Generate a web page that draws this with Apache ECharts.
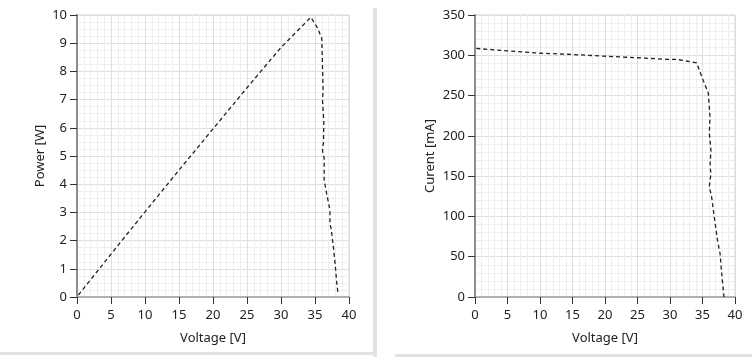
<!DOCTYPE html>
<html lang="en">
<head>
<meta charset="UTF-8">
<title>PV curves</title>
<style>
    html, body { margin: 0; padding: 0; background: #fff; }
    #echart { width: 752px; height: 357px; }
</style>
</head>
<body>

<div id="echart"></div>

<script src="https://cdn.jsdelivr.net/npm/echarts@6.0.0/dist/echarts.min.js"></script>
<script>
    // P-V curve
    const powerV = [0.2, 5, 10, 15, 20, 25, 30, 34.4, 35.4, 36.0, 36.1, 36.2, 36.1, 36.3, 36.25, 36.1, 36.35, 36.35, 36.7, 37.2, 37.2, 37.4, 37.7, 38.0, 38.2, 38.4];
    const powerW = [0.07, 1.52, 3.02, 4.5, 5.96, 7.42, 8.85, 9.92, 9.53, 9.17, 8.2, 7.3, 7.0, 6.2, 5.5, 5.2, 4.92, 4.15, 3.68, 3.08, 2.61, 2.38, 1.78, 1.07, 0.49, 0.1];

    // I-V curve
    const curV = [0.2, 5, 10.3, 15, 19.7, 23.6, 29.5, 31, 34.1, 35.1, 35.9, 36.15, 36.05, 36.3, 36.15, 36.3, 36.05, 36.4, 36.8, 37.3, 37.7, 37.95, 38.3];
    const curI = [308.5, 305.5, 302.5, 301, 299, 297.5, 295, 295, 290.5, 269, 253, 224, 203, 182, 162, 153.5, 137, 124.5, 99.7, 70.7, 54, 29.4, 0];

    const font = "Noto Sans";
    const majorGrid = "#dedede";
    const minorGrid = "#eeeeee";

    function xAx(gridIndex) {
        return {
            type: "value", gridIndex: gridIndex, min: 0, max: 40, interval: 5,
            name: "Voltage [V]", nameLocation: "middle", nameGap: 35,
            nameTextStyle: { fontFamily: font, fontSize: 13, color: "#222" },
            axisLine: { show: true, onZero: false, lineStyle: { color: "#d4d4d4", width: 1 } },
            axisTick: { show: true, length: 7, lineStyle: { color: "#333" } },
            axisLabel: { fontFamily: font, fontSize: 13, color: "#222", margin: 12 },
            splitLine: { show: true, lineStyle: { color: majorGrid } },
            minorTick: { show: false, splitNumber: 5 },
            minorSplitLine: { show: true, lineStyle: { color: minorGrid } }
        };
    }

    function topAx(gridIndex) {
        return {
            type: "value", gridIndex: gridIndex, position: "top", min: 0, max: 40,
            axisLine: { show: true, lineStyle: { color: "#a0a0a0", width: 1.5 } },
            axisTick: { show: false }, axisLabel: { show: false }, splitLine: { show: false }
        };
    }

    function yAx(gridIndex, max, interval, minorSplit, name, gap) {
        return {
            type: "value", gridIndex: gridIndex, min: 0, max: max, interval: interval,
            name: name, nameLocation: "middle", nameGap: gap,
            nameTextStyle: { fontFamily: font, fontSize: 13, color: "#222" },
            axisLine: { show: true, lineStyle: { color: "#8c8c8c", width: 2 } },
            axisTick: { show: true, length: 7, lineStyle: { color: "#333" } },
            axisLabel: { fontFamily: font, fontSize: 13, color: "#222", margin: 10 },
            splitLine: { show: true, lineStyle: { color: majorGrid } },
            minorTick: { show: false, splitNumber: minorSplit },
            minorSplitLine: { show: true, lineStyle: { color: minorGrid } }
        };
    }

    const myChart = echarts.init(document.getElementById("echart"));

    const option = {
        animation: false,
        backgroundColor: "#fff",
        grid: [
            { left: 77, top: 15, width: 272, height: 282, show: true, borderColor: "#d4d4d4", borderWidth: 1 },
            { left: 475, top: 15, width: 260, height: 282, show: true, borderColor: "#d4d4d4", borderWidth: 1 }
        ],
        xAxis: [xAx(0), xAx(1), topAx(0), topAx(1)],
        yAxis: [
            yAx(0, 10, 1, 4, "Power [W]", 30),
            yAx(1, 350, 50, 5, "Curent [mA]", 38)
        ],
        graphic: [
            { type: "rect", shape: { x: 373, y: 8, width: 4, height: 349 }, style: { fill: "#e2e2e2" }, silent: true },
            { type: "rect", shape: { x: 0, y: 352, width: 375, height: 3 }, style: { fill: "#e2e2e2" }, silent: true },
            { type: "rect", shape: { x: 395, y: 354, width: 357, height: 3 }, style: { fill: "#e2e2e2" }, silent: true }
        ],
        series: [
            {
                type: "line", xAxisIndex: 0, yAxisIndex: 0, symbol: "none",
                data: powerV.map((v, i) => [v, powerW[i]]),
                lineStyle: { color: "#222", width: 1.3, type: [4, 3] }
            },
            {
                type: "line", xAxisIndex: 1, yAxisIndex: 1, symbol: "none",
                data: curV.map((v, i) => [v, curI[i]]),
                lineStyle: { color: "#222", width: 1.3, type: [4, 3] }
            }
        ]
    };

    myChart.setOption(option);
</script>

</body>
</html>
